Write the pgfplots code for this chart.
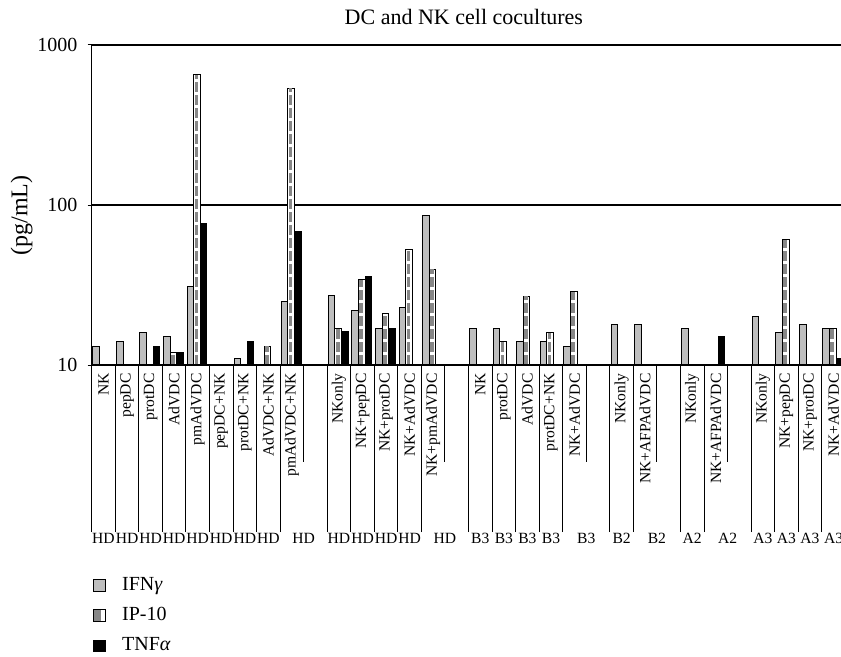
\documentclass[border=0pt]{standalone}
\usepackage{pgfplots}
\pgfplotsset{compat=1.18}
\usepackage{pgfplotstable}
\usepackage{fontspec}
\setmainfont{Liberation Serif}
\definecolor{ifn}{RGB}{190,190,190}
\definecolor{stripe}{RGB}{135,135,135}

\pgfplotstableread{
x y
0 13.0
1 14.0
2 16.0
3 15.0
4 30.9
6 11.0
8 24.8
10 27.1
11 22.0
12 16.9
13 22.9
14 86.6
16 16.8
17 16.8
18 14.0
19 14.0
20 13.0
22 18.0
23 18.0
25 16.8
28 20.0
29 16.0
30 18.0
31 16.8
}\ifntable

\pgfplotstableread{
x y
3 12.0
4 650
7 13.1
8 537
10 16.9
11 34.2
12 20.9
13 52.9
14 39.7
17 14.0
18 26.9
19 15.9
20 28.8
29 60.5
31 16.8
}\iptable

\pgfplotstableread{
x y
2 13.1
3 12.0
4 77.0
6 14.0
8 68.5
10 16.1
11 35.9
12 16.9
26 15.0
31 11.0
}\tnftable

\newcommand{\catfont}{\fontsize{7.8}{9}\selectfont}

\begin{document}
\begin{tikzpicture}
\useasboundingbox (-45.85pt,-145.5pt) rectangle (374.6pt,182.5pt);

% main data axis
\begin{axis}[
  scale only axis, width=374.6pt, height=160pt,
  xmin=-0.5, xmax=31.316,
  ymode=log, ymin=10, ymax=1000, log origin y=infty,
  ytick={10,100,1000},
  yticklabels={\textnormal{10},\textnormal{100},\textnormal{1000}},
  yminorticks=false,
  axis x line*=bottom, axis y line*=left,
  axis line style={line width=0.6pt, black},
  tick align=outside, major tick length=2pt,
  ytick style={black, line width=0.5pt},
  xtick style={draw=none},
  ymajorgrids, grid style={black, line width=0.55pt},
  yticklabel style={font=\fontsize{10}{12}\selectfont, inner sep=0pt},
  yticklabel shift=5pt,
  xtick={0,...,31},
  xticklabels={NK,pepDC,protDC,AdVDC,pmAdVDC,pepDC+NK,protDC+NK,AdVDC+NK,pmAdVDC+NK,{},
    NKonly,NK+pepDC,NK+protDC,NK+AdVDC,NK+pmAdVDC,{},
    NK,protDC,AdVDC,protDC+NK,NK+AdVDC,{},
    NKonly,NK+AFPAdVDC,{},NKonly,NK+AFPAdVDC,{},
    NKonly,NK+pepDC,NK+protDC,NK+AdVDC},
  xticklabel style={rotate=90, anchor=east, inner sep=0pt, font=\catfont},
  xticklabel shift=2pt,
  title={DC and NK cell cocultures},
  title style={at={(axis description cs:0.4967,1)}, anchor=base, yshift=4pt, font=\fontsize{11}{13}\selectfont},
  ylabel={(pg/mL)},
  ylabel style={at={(axis description cs:-0.0935,0.467)}, anchor=center, font=\fontsize{12}{14}\selectfont},
  legend style={at={(0,0)}, anchor=north west, xshift=0.4pt, yshift=-106pt,
    draw=none, fill=none, inner sep=0pt, row sep=7pt,
    font=\fontsize{10}{12}\selectfont, nodes={inner sep=0pt},
    /tikz/every odd column/.append style={column sep=8.3pt}},
  legend cell align=left,
]
\addplot[ybar, bar width=0.28, bar shift=0pt, fill=ifn, draw=black, line width=0.5pt,
  legend image code/.code={\draw[fill=ifn, draw=black, line width=0.5pt] (0pt,-2.9pt) rectangle (5.8pt,2.9pt);}]
  table[x expr=\thisrow{x}-0.31, y=y] {\ifntable};
\addlegendentry{IFN\textit{γ}}
\addplot[ybar, bar width=0.28, bar shift=0pt, fill=white, draw=black, line width=0.5pt,
  legend image code/.code={\draw[fill=white, draw=black, line width=0.5pt] (0pt,-2.9pt) rectangle (5.8pt,2.9pt);
    \fill[stripe] (0.6pt,-2.6pt) rectangle (3.4pt,2.6pt);}]
  table[x expr=\thisrow{x}-0.03, y=y] {\iptable};
\addlegendentry{IP-10}
\addplot[ycomb, forget plot, draw=stripe, line width=1.8pt, dash pattern=on 5pt off 1.5pt, mark=none]
  table[x expr=\thisrow{x}-0.055, y=y] {\iptable};
\addplot[ybar, bar width=0.28, bar shift=0pt, fill=black, draw=black, line width=0.5pt,
  legend image code/.code={\draw[fill=black, draw=black, line width=0.5pt] (0pt,-2.9pt) rectangle (5.8pt,2.9pt);}]
  table[x expr=\thisrow{x}+0.25, y=y] {\tnftable};
\addlegendentry{TNF\textit{α}}
\end{axis}

% full-length separators
\begin{axis}[
  scale only axis, width=374.6pt, height=160pt,
  xmin=-0.5, xmax=31.316, ymin=0, ymax=1,
  hide y axis, axis x line*=bottom,
  axis line style={line width=0.6pt, black},
  xtick={-0.5,0.5,1.5,2.5,3.5,4.5,5.5,6.5,7.5,9.5,10.5,11.5,12.5,13.5,15.5,16.5,17.5,18.5,19.5,21.5,22.5,24.5,25.5,27.5,28.5,29.5,30.5},
  xticklabels={},
  tick align=outside, major tick length=83.5pt,
  xtick style={black, line width=0.5pt},
]
\end{axis}

% short separators
\begin{axis}[
  scale only axis, width=374.6pt, height=160pt,
  xmin=-0.5, xmax=31.316, ymin=0, ymax=1,
  hide y axis, axis x line*=bottom,
  axis line style={line width=0.6pt, black},
  xtick={8.5,14.5,20.5,23.5,26.5},
  xticklabels={},
  tick align=outside, major tick length=48.35pt,
  xtick style={black, line width=0.5pt},
]
\end{axis}

% outer category labels
\begin{axis}[
  scale only axis, width=374.6pt, height=160pt,
  xmin=-0.5, xmax=31.316, ymin=0, ymax=1,
  hide y axis, axis x line*=bottom,
  axis line style={line width=0.6pt, black},
  xtick={0,1,2,3,4,5,6,7,8.5,10,11,12,13,14.5,16,17,18,19,20.5,22,23.5,25,26.5,28,29,30,31},
  xticklabels={HD,HD,HD,HD,HD,HD,HD,HD,HD,HD,HD,HD,HD,HD,B3,B3,B3,B3,B3,B2,B2,A2,A2,A3,A3,A3,A3},
  xtick style={draw=none},
  xticklabel style={anchor=center, inner sep=0pt, font=\catfont},
  xticklabel shift=86.5pt,
]
\end{axis}
\end{tikzpicture}
\end{document}
